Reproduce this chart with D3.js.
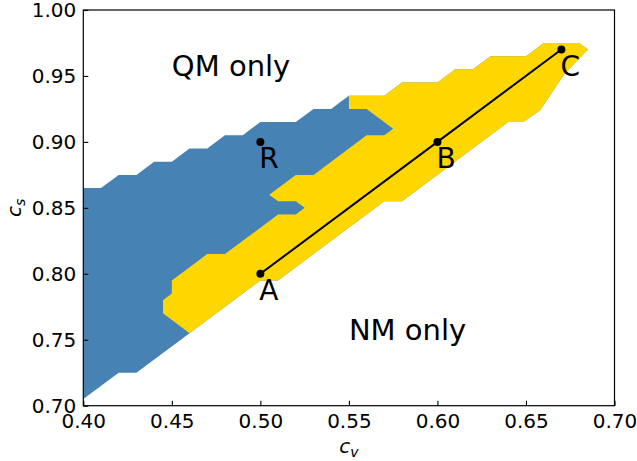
<!DOCTYPE html>
<html>
<head>
<meta charset="utf-8">
<script src="https://cdn.jsdelivr.net/npm/d3@7"></script>
<style>
  html, body { margin: 0; padding: 0; background: #fff; }
  svg { display: block; font-family: "DejaVu Sans", sans-serif; }
</style>
</head>
<body>
<svg id="chart" width="637" height="461"></svg>
<script>
// ---- data (c_v, c_s) ----
const xTicks = [0.40, 0.45, 0.50, 0.55, 0.60, 0.65, 0.70];
const yTicks = [0.70, 0.75, 0.80, 0.85, 0.90, 0.95, 1.00];

// upper boundary of the blue region (left border -> junction with yellow)
const blueTop = [[0.40,0.865],[0.41,0.865],[0.42,0.875],[0.43,0.875],[0.44,0.885],[0.45,0.885],
  [0.46,0.895],[0.47,0.895],[0.48,0.905],[0.49,0.905],[0.50,0.915],[0.52,0.915],
  [0.53,0.925],[0.54,0.925],[0.545,0.93]];
// outer boundary of the yellow region (top, tip, lower-right edge)
const yellowOuter = [[0.55,0.935],[0.57,0.935],[0.58,0.945],[0.60,0.945],[0.61,0.955],[0.62,0.955],
  [0.63,0.965],[0.65,0.965],[0.66,0.975],[0.68,0.975],[0.685,0.97],[0.68,0.963],[0.672,0.952],
  [0.658,0.924],[0.6485,0.915],[0.64,0.915],[0.58,0.855],[0.57,0.855],[0.51,0.795],[0.50,0.795],
  [0.46,0.755]];
// lower boundary of the blue region
const blueBottom = [[0.43,0.725],[0.42,0.725],[0.40,0.705]];
// boundary between yellow and blue (bottom -> top)
const yellowInner = [[0.445,0.77],[0.445,0.78],[0.45,0.785],[0.45,0.795],[0.47,0.815],[0.48,0.815],
  [0.51,0.845],[0.52,0.845],[0.525,0.85],[0.52,0.855],[0.51,0.855],[0.505,0.86],[0.52,0.875],
  [0.53,0.875],[0.56,0.905],[0.57,0.905],[0.575,0.91],[0.56,0.925],[0.55,0.925]];

const pointNames = ["A", "B", "C", "R"];
const pointX = [0.50, 0.60, 0.67, 0.50];
const pointY = [0.80, 0.90, 0.97, 0.90];
const pathNames = ["A", "B", "C"];

const regionText = ["QM only", "NM only"];
const regionTextX = [0.45, 0.55];
const regionTextY = [0.95, 0.75];

// ---- layout ----
const svg = d3.select("#chart");
const pl = 83.3, pr = 614.5, pt = 10, pb = 405.7;
const x = d3.scaleLinear().domain([0.40, 0.70]).range([pl, pr]);
const y = d3.scaleLinear().domain([0.70, 1.00]).range([pb, pt]);

svg.append("defs").append("clipPath").attr("id", "clip")
  .append("rect").attr("x", pl).attr("y", pt).attr("width", pr - pl).attr("height", pb - pt);

const line = d3.line().x(d => x(d[0])).y(d => y(d[1]));
const g = svg.append("g").attr("clip-path", "url(#clip)");

g.append("path").attr("d", line(blueTop.concat(yellowOuter, blueBottom)) + "Z")
  .attr("fill", "#4682b4");
g.append("path").attr("d", line(yellowOuter.concat(yellowInner)) + "Z")
  .attr("fill", "#ffd700");

// path A-B-C
const pts = pointNames.map((n, i) => ({name: n, x: pointX[i], y: pointY[i]}));
const pathPts = pathNames.map(n => pts.find(p => p.name === n));
g.append("path").attr("d", d3.line().x(d => x(d.x)).y(d => y(d.y))(pathPts))
  .attr("fill", "none").attr("stroke", "#000").attr("stroke-width", 2);

g.selectAll("circle.pt").data(pts).enter().append("circle")
  .attr("cx", d => x(d.x)).attr("cy", d => y(d.y)).attr("r", 4).attr("fill", "#000");

svg.selectAll("text.ptlab").data(pts).enter().append("text")
  .attr("x", d => x(d.x) - 1).attr("y", d => y(d.y - 0.02))
  .attr("font-size", 28).attr("fill", "#000").text(d => d.name);

svg.selectAll("text.region").data(regionText).enter().append("text")
  .attr("x", (d, i) => x(regionTextX[i])).attr("y", (d, i) => y(regionTextY[i]))
  .attr("font-size", 29).attr("fill", "#000").text(d => d);

// ---- axes ----
const fmt = d3.format(".2f");
const xAxis = svg.append("g").attr("transform", `translate(0,${pb})`)
  .call(d3.axisBottom(x).tickValues(xTicks).tickFormat(fmt).tickSizeInner(-5).tickSizeOuter(0).tickPadding(8.5));
const yAxis = svg.append("g").attr("transform", `translate(${pl},0)`)
  .call(d3.axisLeft(y).tickValues(yTicks).tickFormat(fmt).tickSizeInner(-5).tickSizeOuter(0).tickPadding(7));
[xAxis, yAxis].forEach(a => {
  a.select(".domain").remove();
  a.selectAll("line").attr("stroke", "#000").attr("stroke-width", 1.1);
  a.selectAll("text").attr("font-size", 20).attr("font-family", "DejaVu Sans").attr("fill", "#000");
});

svg.append("rect").attr("x", pl).attr("y", pt).attr("width", pr - pl).attr("height", pb - pt)
  .attr("fill", "none").attr("stroke", "#000").attr("stroke-width", 1.2);

// axis labels (c_v, c_s)
const xl = svg.append("text").attr("x", (pl + pr) / 2).attr("y", 453)
  .attr("text-anchor", "middle").attr("font-size", 20).attr("fill", "#000");
xl.append("tspan").attr("font-style", "italic").text("c");
xl.append("tspan").attr("font-style", "italic").attr("font-size", 14).attr("dy", 4).text("v");

const yl = svg.append("text").attr("transform", `translate(20.5,${(pt + pb) / 2}) rotate(-90)`)
  .attr("text-anchor", "middle").attr("font-size", 20).attr("fill", "#000");
yl.append("tspan").attr("font-style", "italic").text("c");
yl.append("tspan").attr("font-style", "italic").attr("font-size", 14).attr("dy", 4).text("s");
</script>
</body>
</html>
